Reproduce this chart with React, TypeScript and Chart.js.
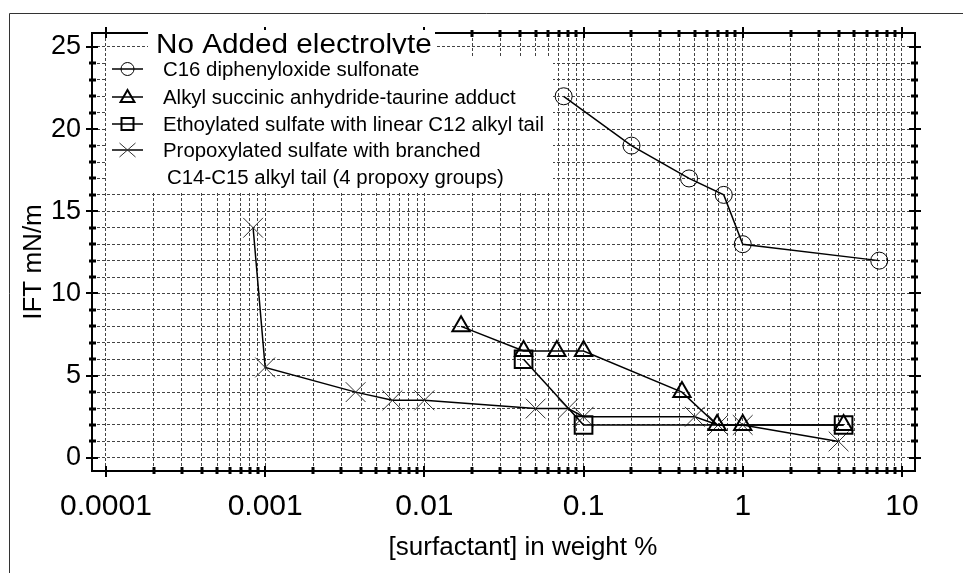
import React, { useEffect, useRef } from 'react';
import { Chart, registerables } from 'chart.js';

Chart.register(...registerables);

// ---------- data ----------
const legendTitle = 'No Added electrolyte';
const seriesNames = [
  'C16 diphenyloxide sulfonate',
  'Alkyl succinic anhydride-taurine adduct',
  'Ethoylated sulfate with linear C12 alkyl tail',
  'Propoxylated sulfate with branched',
];
const legendExtraLine = 'C14-C15 alkyl tail (4 propoxy groups)';

const c16X = [0.075, 0.2, 0.46, 0.76, 1.0, 7.2];
const c16Y = [22, 19, 17, 16, 13, 12];

const asaX = [0.017, 0.042, 0.068, 0.1, 0.415, 0.69, 1.0, 4.3];
const asaY = [8, 6.5, 6.5, 6.5, 4, 2, 2, 2];

const ethX = [0.042, 0.1, 4.3];
const ethY = [6, 2, 2];

const propX = [0.00084, 0.001, 0.0037, 0.0063, 0.01, 0.05, 0.08, 0.1, 0.5, 0.7, 1.0, 4.0];
const propY = [14, 5.5, 4, 3.5, 3.5, 3, 3, 2.5, 2.5, 2, 2, 1];

const xTickLabels = ['0.0001', '0.001', '0.01', '0.1', '1', '10'];
const yTickLabels = ['0', '5', '10', '15', '20', '25'];
const xTitle = '[surfactant] in weight %';
const yTitle = 'IFT mN/m';

const X_MIN = 8.17e-5;
const X_MAX = 12.08;
const Y_MIN = -0.8;
const Y_MAX = 25.85;

const FONT = '"Liberation Sans", Arial, Helvetica, sans-serif';

const pts = (xs: number[], ys: number[]) => xs.map((x, i) => ({ x, y: ys[i] }));

const isDecade = (v: number) => Math.abs(Math.log10(v) - Math.round(Math.log10(v))) < 1e-9;

function drawMarker(ctx: CanvasRenderingContext2D, kind: string, x: number, y: number) {
  ctx.save();
  ctx.strokeStyle = '#000';
  ctx.beginPath();
  if (kind === 'circle') {
    ctx.lineWidth = 1;
    ctx.arc(x, y, 6.5, 0, Math.PI * 2);
  } else if (kind === 'triangle') {
    ctx.lineWidth = 2;
    const r = 8;
    for (let k = 0; k < 3; k++) {
      const a = (k * 2 * Math.PI) / 3;
      const px = x + Math.sin(a) * r;
      const py = y - Math.cos(a) * r + 1;
      if (k === 0) ctx.moveTo(px, py); else ctx.lineTo(px, py);
    }
    ctx.closePath();
  } else if (kind === 'rect') {
    ctx.lineWidth = 2;
    ctx.rect(x - 6, y - 6, 12, 12);
  } else {
    ctx.lineWidth = 1;
    ctx.strokeStyle = '#333';
    ctx.moveTo(x - 8, y - 7); ctx.lineTo(x + 8, y + 7);
    ctx.moveTo(x - 8, y + 7); ctx.lineTo(x + 8, y - 7);
  }
  ctx.stroke();
  ctx.restore();
}

function stretchedText(ctx: CanvasRenderingContext2D, text: string, x: number, y: number, sx: number) {
  ctx.save();
  ctx.translate(x, y);
  ctx.scale(sx, 1);
  ctx.fillText(text, 0, 0);
  ctx.restore();
}

const framePlugin = {
  id: 'framePlugin',
  beforeDraw(chart: any) {
    const ctx: CanvasRenderingContext2D = chart.ctx;
    ctx.save();
    ctx.fillStyle = '#fff';
    ctx.fillRect(0, 0, chart.width, chart.height);
    ctx.strokeStyle = '#333';
    ctx.lineWidth = 1;
    ctx.beginPath();
    ctx.moveTo(9.5, chart.height);
    ctx.lineTo(9.5, 13.5);
    ctx.lineTo(chart.width, 13.5);
    ctx.stroke();
    ctx.restore();
  },
  afterDraw(chart: any) {
    const ctx: CanvasRenderingContext2D = chart.ctx;
    const a = chart.chartArea;
    const xs = chart.scales.x;
    const ys = chart.scales.y;
    const line = (x1: number, y1: number, x2: number, y2: number) => {
      ctx.beginPath();
      ctx.moveTo(x1, y1);
      ctx.lineTo(x2, y2);
      ctx.stroke();
    };
    ctx.save();
    ctx.strokeStyle = '#000';
    ctx.lineWidth = 2;
    ctx.strokeRect(a.left, a.top, a.right - a.left, a.bottom - a.top);

    ys.ticks.forEach((t: any) => {
      const y = Math.round(ys.getPixelForValue(t.value));
      const major = t.value % 5 === 0;
      const o = major ? 6 : 3;
      const i = major ? 6 : 4;
      ctx.lineWidth = major ? 2 : 3;
      line(a.left - o, y, a.left + i, y);
      line(a.right - i, y, a.right + o, y);
    });
    xs.ticks.forEach((t: any) => {
      const x = Math.round(xs.getPixelForValue(t.value));
      const major = isDecade(t.value);
      const o = major ? 6 : 3;
      const i = major ? 5 : 4;
      ctx.lineWidth = major ? 2 : 3;
      line(x, a.bottom - i, x, a.bottom + o);
      line(x, a.top - o, x, a.top + i);
    });

    // axis titles
    ctx.fillStyle = '#000';
    ctx.font = `26px ${FONT}`;
    ctx.textAlign = 'center';
    ctx.textBaseline = 'middle';
    ctx.fillText(xTitle, 523, 548);
    ctx.save();
    ctx.translate(34, 262);
    ctx.rotate(-Math.PI / 2);
    ctx.font = `26px ${FONT}`;
    ctx.fillText(yTitle, 0, 0);
    ctx.restore();

    // legend
    ctx.fillStyle = '#fff';
    ctx.fillRect(148, a.top - 3, 287, 26);
    ctx.fillRect(107, 56, 446, 137);
    ctx.save();
    ctx.beginPath();
    ctx.rect(140, a.top - 4, 310, 54 - (a.top - 4));
    ctx.clip();
    ctx.fillStyle = '#000';
    ctx.font = `27px ${FONT}`;
    ctx.textAlign = 'left';
    ctx.textBaseline = 'alphabetic';
    stretchedText(ctx, legendTitle, 156, 53, 1.1);
    ctx.restore();

    const kinds = ['circle', 'triangle', 'rect', 'cross'];
    const rows = [69, 97, 124, 150];
    ctx.font = `20px ${FONT}`;
    ctx.textAlign = 'left';
    ctx.textBaseline = 'middle';
    rows.forEach((ry, k) => {
      ctx.strokeStyle = '#000';
      ctx.lineWidth = 1.5;
      line(112, ry, 143, ry);
      drawMarker(ctx, kinds[k], 127.5, ry);
      ctx.fillStyle = '#000';
      stretchedText(ctx, seriesNames[k], 163, ry + 1, 1.02);
    });
    stretchedText(ctx, legendExtraLine, 167, 178, 1.02);
    ctx.restore();
  },
};

export default function App() {
  const ref = useRef<HTMLCanvasElement | null>(null);

  useEffect(() => {
    if (!ref.current) return;
    const base = {
      showLine: true,
      borderColor: '#000',
      borderWidth: 1.5,
      pointBackgroundColor: 'rgba(0,0,0,0)',
      pointBorderColor: '#000',
      fill: false,
      tension: 0,
    };
    const chart = new Chart(ref.current, {
      type: 'scatter',
      data: {
        datasets: [
          { ...base, label: seriesNames[0], data: pts(c16X, c16Y), pointStyle: 'circle', pointRadius: 8.5, pointBorderWidth: 1 },
          { ...base, label: seriesNames[1], data: pts(asaX, asaY), pointStyle: 'triangle', pointRadius: 10, pointBorderWidth: 2 },
          { ...base, label: seriesNames[2], data: pts(ethX, ethY), pointStyle: 'rect', pointRadius: 12.5, pointBorderWidth: 2 },
          { ...base, label: seriesNames[3], data: pts(propX, propY), pointStyle: 'crossRot', pointRadius: 14, pointBorderWidth: 1, pointBorderColor: '#333' },
        ],
      },
      options: {
        animation: false,
        responsive: false,
        devicePixelRatio: 1,
        layout: { padding: { top: 33, right: 48, left: 0, bottom: 0 } },
        plugins: { legend: { display: false }, tooltip: { enabled: false } },
        scales: {
          x: {
            type: 'logarithmic',
            min: X_MIN,
            max: X_MAX,
            afterBuildTicks: (scale: any) => {
              const ticks: any[] = [];
              for (let e = -4; e <= 1; e++) {
                for (let m = 1; m <= 9; m++) {
                  const v = parseFloat((m * Math.pow(10, e)).toPrecision(6));
                  if (v >= X_MIN && v <= X_MAX) ticks.push({ value: v });
                }
              }
              scale.ticks = ticks;
            },
            afterFit: (scale: any) => { scale.height = 102; },
            grid: { color: '#444', lineWidth: 1, drawTicks: false },
            border: { display: false, dash: [3, 2] },
            ticks: {
              autoSkip: false,
              maxRotation: 0,
              minRotation: 0,
              padding: 18,
              color: '#000',
              font: { family: FONT, size: 30 },
              callback: (v: any) => {
                const val = Number(v);
                const lab = xTickLabels.find((l) => Math.abs(parseFloat(l) - val) < 1e-12 * Math.max(1, val));
                return lab ?? '';
              },
            },
          },
          y: {
            type: 'linear',
            min: Y_MIN,
            max: Y_MAX,
            afterBuildTicks: (scale: any) => {
              const ticks: any[] = [];
              for (let v = 0; v <= 25; v++) ticks.push({ value: v });
              scale.ticks = ticks;
            },
            afterFit: (scale: any) => { scale.width = 92; },
            grid: { color: '#444', lineWidth: 1, drawTicks: false },
            border: { display: false, dash: [3, 2] },
            ticks: {
              autoSkip: false,
              padding: 11,
              color: '#000',
              font: { family: FONT, size: 27 },
              callback: (v: any) => {
                const lab = yTickLabels.find((l) => Number(l) === Number(v));
                return lab ?? '';
              },
            },
          },
        },
      },
      plugins: [framePlugin],
    } as any);
    return () => chart.destroy();
  }, []);

  return (
    <div style={{ position: 'absolute', left: 0, top: 0, width: 963, height: 573, background: '#fff' }}>
      <canvas ref={ref} width={963} height={573} style={{ display: 'block' }} />
    </div>
  );
}
